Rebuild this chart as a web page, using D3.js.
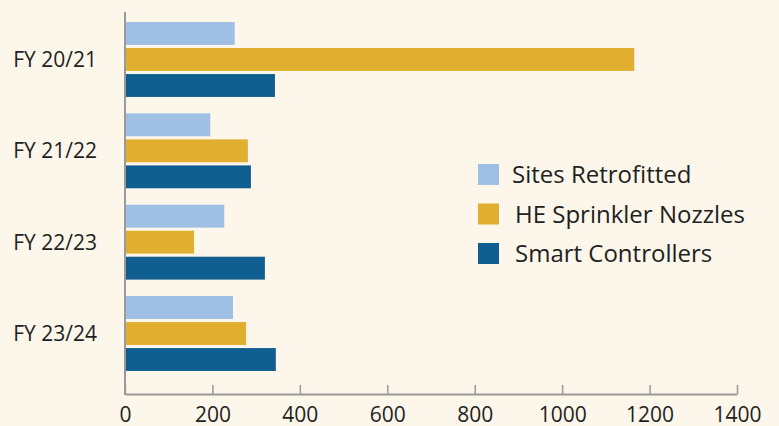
<!DOCTYPE html>
<html>
<head>
<meta charset="utf-8">
<script src="https://cdn.jsdelivr.net/npm/d3@7"></script>
<style>
  body { margin: 0; background: #fcf6eb; }
  svg { display: block; }
  text { font-family: "Open Sans", sans-serif; fill: #231f20; }
</style>
</head>
<body>
<svg id="chart" width="779" height="426"></svg>
<script>
// fiscal years and the three series
let years = ["FY 20/21", "FY 21/22", "FY 22/23", "FY 23/24"];
let series = ["Sites Retrofitted", "HE Sprinkler Nozzles", "Smart Controllers"];
let sitesRetrofitted = [251, 195, 227, 247];
let sprinklerNozzles = [1165, 281, 158, 277];
let smartControllers = [343, 288, 320, 345];
let xTicks = [0, 200, 400, 600, 800, 1000, 1200, 1400];

let colors = ["#9fbfe5", "#e1af2f", "#105d8f"];

let data = years.map((y, i) => ({
  year: y,
  values: [sitesRetrofitted[i], sprinklerNozzles[i], smartControllers[i]]
}));

let svg = d3.select("#chart");
svg.append("rect").attr("width", 779).attr("height", 426).attr("fill", "#fcf6eb");

let x = d3.scaleLinear().domain([0, 1400]).range([125, 737]);

let y = d3.scaleBand()
  .domain(years)
  .range([12, 381])
  .paddingInner(0.18)
  .paddingOuter(0.11);

let y1 = d3.scaleBand()
  .domain(series)
  .range([0, y.bandwidth()])
  .paddingInner(0.12);

// bars
let groups = svg.append("g")
  .selectAll("g")
  .data(data)
  .enter()
  .append("g")
    .attr("transform", d => "translate(0," + y(d.year) + ")");

groups.selectAll("rect")
  .data(d => d.values.map((v, j) => ({series: series[j], value: v, idx: j})))
  .enter()
  .append("rect")
    .attr("x", x(0))
    .attr("y", d => y1(d.series))
    .attr("width", d => x(d.value) - x(0))
    .attr("height", y1.bandwidth())
    .attr("fill", d => colors[d.idx]);

// x axis, ticks pointing up
let xAxis = svg.append("g")
  .attr("transform", "translate(0,394)")
  .call(d3.axisBottom(x).tickValues(xTicks).tickFormat(d3.format("d"))
    .tickSize(-9).tickSizeOuter(0).tickPadding(13));
xAxis.select(".domain").attr("stroke", "#9a9a9a").attr("stroke-width", 2);
xAxis.selectAll(".tick line").attr("stroke", "#9a9a9a").attr("stroke-width", 1.5);
xAxis.selectAll(".tick text")
  .attr("font-size", 21)
  .attr("font-family", "'Open Sans', sans-serif")
  .attr("fill", "#231f20");

// y axis line + labels
svg.append("line")
  .attr("x1", 125).attr("x2", 125)
  .attr("y1", 12).attr("y2", 395)
  .attr("stroke", "#9a9a9a").attr("stroke-width", 2);

svg.append("g")
  .selectAll("text")
  .data(years)
  .enter()
  .append("text")
    .attr("x", 97)
    .attr("y", d => y(d) + y.bandwidth() / 2)
    .attr("dy", "0.35em")
    .attr("text-anchor", "end")
    .attr("font-size", 21)
    .text(d => d);

// legend
let legend = svg.append("g")
  .selectAll("g")
  .data(series)
  .enter()
  .append("g")
    .attr("transform", (d, i) => "translate(478," + (164 + i * 39.5) + ")");

legend.append("rect")
  .attr("width", 21).attr("height", 21)
  .attr("fill", (d, i) => colors[i]);

legend.append("text")
  .attr("x", (d, i) => i == 0 ? 34 : 37)
  .attr("y", 11)
  .attr("dy", "0.35em")
  .attr("font-size", 24)
  .text(d => d);
</script>
</body>
</html>
